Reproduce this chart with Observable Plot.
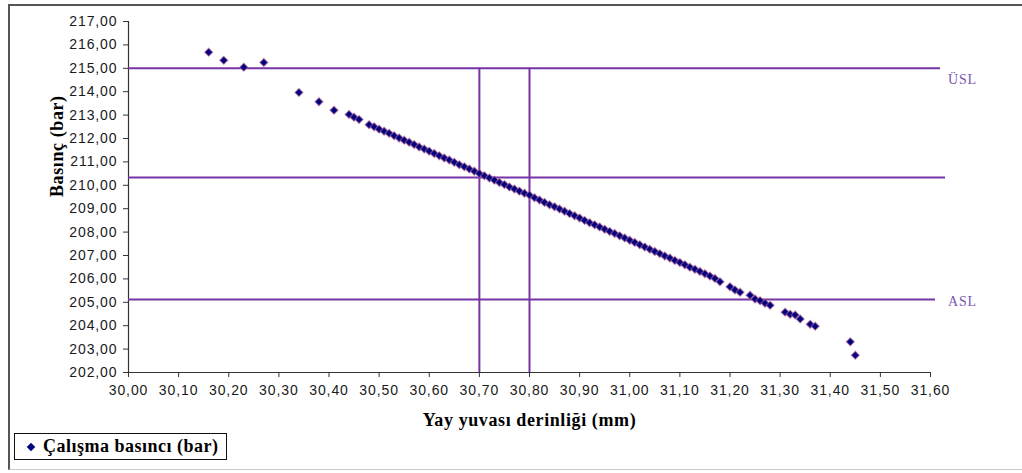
<!DOCTYPE html>
<html>
<head>
<meta charset="utf-8">
<script src="https://cdn.jsdelivr.net/npm/d3@7"></script>
<script src="https://cdn.jsdelivr.net/npm/@observablehq/plot@0.6"></script>
<style>
  html, body { margin: 0; padding: 0; background: #fff; }
  body { position: relative; width: 1022px; height: 473px; overflow: hidden; }
  #frame { position: absolute; left: 8px; top: 4px; width: 1016px; height: 466px;
           border-left: 2px solid #555; border-top: 2px solid #555; border-bottom: 1px solid #c8c8c8; box-sizing: border-box; }
  #chart { position: absolute; left: 0; top: 0; }
  #chart svg g.tick text { letter-spacing: 0.9px; }
  #chart svg .lim text { letter-spacing: 0.8px; }
  #chart svg .ttl text { letter-spacing: 0.6px; }
  #legend { position: absolute; left: 14px; top: 433px; width: 213px; height: 27px; box-sizing: border-box;
            border: 1.5px solid #111; background: #fff; display: flex; align-items: center;
            font-family: "Liberation Serif", "Times New Roman", serif; font-weight: bold; font-size: 18px; color: #000; letter-spacing: 0.5px; }
  #legend .sym { width: 6px; height: 6px; background: #000080; transform: rotate(45deg); margin-left: 13px; margin-right: 9px; }
</style>
</head>
<body>
<div id="frame"></div>
<div id="chart"></div>
<div id="legend"><span class="sym"></span><span id="legendText"></span></div>
<script>
// ---- data ----
const seriesName = "Çalışma basıncı (bar)";
const xTitle = "Yay yuvası derinliği (mm)";
const yTitle = "Basınç (bar)";

const depth = [
  30.16, 30.19, 30.23, 30.27, 30.34, 30.38, 30.41, 30.44, 30.45, 30.46, 30.48,
  30.49, 30.50, 30.51, 30.52, 30.53, 30.54, 30.55, 30.56, 30.57, 30.58, 30.59,
  30.60, 30.61, 30.62, 30.63, 30.64, 30.65, 30.66, 30.67, 30.68, 30.69,
  30.70, 30.71, 30.72, 30.73, 30.74, 30.75, 30.76, 30.77, 30.78, 30.79,
  30.80, 30.81, 30.82, 30.83, 30.84, 30.85, 30.86, 30.87, 30.88, 30.89,
  30.90, 30.91, 30.92, 30.93, 30.94, 30.95, 30.96, 30.97, 30.98, 30.99,
  31.00, 31.01, 31.02, 31.03, 31.04, 31.05, 31.06, 31.07, 31.08, 31.09,
  31.10, 31.11, 31.12, 31.13, 31.14, 31.15, 31.16, 31.17, 31.18,
  31.20, 31.21, 31.22, 31.24, 31.25, 31.26, 31.27, 31.28,
  31.31, 31.32, 31.33, 31.34, 31.36, 31.37, 31.44, 31.45
];
const pressure = [
  215.69, 215.34, 215.05, 215.25, 213.97, 213.57, 213.21, 213.03, 212.91, 212.81, 212.59,
  212.50, 212.40, 212.31, 212.22, 212.12, 212.02, 211.93, 211.84, 211.74, 211.64, 211.55,
  211.46, 211.36, 211.26, 211.17, 211.08, 210.98, 210.88, 210.79, 210.70, 210.60,
  210.50, 210.41, 210.31, 210.22, 210.12, 210.03, 209.93, 209.84, 209.75, 209.66,
  209.58, 209.47, 209.37, 209.27, 209.17, 209.08, 208.99, 208.89, 208.79, 208.70,
  208.60, 208.50, 208.40, 208.31, 208.22, 208.12, 208.03, 207.94, 207.84, 207.75,
  207.65, 207.56, 207.46, 207.36, 207.27, 207.17, 207.08, 206.98, 206.89, 206.79,
  206.70, 206.60, 206.50, 206.41, 206.32, 206.22, 206.12, 206.02, 205.88,
  205.66, 205.53, 205.43, 205.30, 205.14, 205.07, 204.96, 204.87,
  204.58, 204.49, 204.46, 204.29, 204.06, 203.98, 203.31, 202.74
];

const xTicks = [30.0, 30.1, 30.2, 30.3, 30.4, 30.5, 30.6, 30.7, 30.8, 30.9, 31.0, 31.1, 31.2, 31.3, 31.4, 31.5, 31.6];
const yTicks = [202, 203, 204, 205, 206, 207, 208, 209, 210, 211, 212, 213, 214, 215, 216, 217];

const limitValues = [215.0, 210.33, 205.12];
const limitEnds = [31.62, 31.63, 31.61];
const limitLabels = ["ÜSL", "", "ASL"];
const limitLabelOffsets = [11, 0, 2];
const verticalValues = [30.70, 30.80];

// ---- build ----
const points = depth.map((x, i) => ({x, y: pressure[i]}));
const limits = limitValues.map((v, i) => ({v, end: limitEnds[i], label: limitLabels[i], dy: limitLabelOffsets[i]}));
const fmt = d => d.toFixed(2).replace(".", ",");
const purple = "#7634a6";

const plot = Plot.plot({
  width: 1022,
  height: 473,
  marginLeft: 128,
  marginRight: 92,
  marginTop: 21,
  marginBottom: 101,
  x: {domain: [30, 31.6]},
  y: {domain: [202, 217]},
  style: {fontFamily: "'Liberation Sans', Arial, sans-serif", fontSize: "14px", color: "#1a1a1a", background: "transparent", overflow: "visible"},
  marks: [
    Plot.axisX({ticks: xTicks, tickFormat: fmt, tickSize: 5, tickPadding: 8, label: null, fontSize: 14, className: "tick", stroke: "#333"}),
    Plot.axisY({ticks: yTicks, tickFormat: fmt, tickSize: 5, tickPadding: 6, label: null, fontSize: 14, className: "tick", stroke: "#333"}),
    Plot.ruleX([30], {y1: () => 202, y2: () => 217, stroke: "#333", strokeWidth: 1.2}),
    Plot.ruleY([202], {x1: () => 30, x2: () => 31.6, stroke: "#333", strokeWidth: 1.2}),
    Plot.ruleY(limits, {y: "v", x1: () => 30, x2: "end", stroke: purple, strokeWidth: 2}),
    Plot.ruleX(verticalValues, {x: d => d, y1: () => 202, y2: () => limitValues[0], stroke: purple, strokeWidth: 2}),
    Plot.dot(points, {x: "x", y: "y", symbol: "diamond2", r: 3.6, fill: "#000080", stroke: "#b0608c", strokeWidth: 1.3, strokeOpacity: 0.55}),
    Plot.text(limits.filter(d => d.label === "ÜSL"), {x: () => 31.635, y: "v", text: "label", dy: 11, textAnchor: "start", fill: "#7a55b0", fontFamily: "'Liberation Serif', serif", fontSize: 14, className: "lim"}),
    Plot.text(limits.filter(d => d.label === "ASL"), {x: () => 31.635, y: "v", text: "label", dy: 2, textAnchor: "start", fill: "#7a55b0", fontFamily: "'Liberation Serif', serif", fontSize: 14, className: "lim"}),
    Plot.text([xTitle], {frameAnchor: "bottom", text: d => d, dy: 53, fontFamily: "'Liberation Serif', serif", fontWeight: "bold", fontSize: 18, fill: "#000", className: "ttl"}),
    Plot.text([yTitle], {frameAnchor: "left", text: d => d, dx: -71, rotate: -90, fontFamily: "'Liberation Serif', serif", fontWeight: "bold", fontSize: 18, fill: "#000", className: "ttl"})
  ]
});
document.getElementById("chart").appendChild(plot);
document.getElementById("legendText").textContent = seriesName;
</script>
</body>
</html>
